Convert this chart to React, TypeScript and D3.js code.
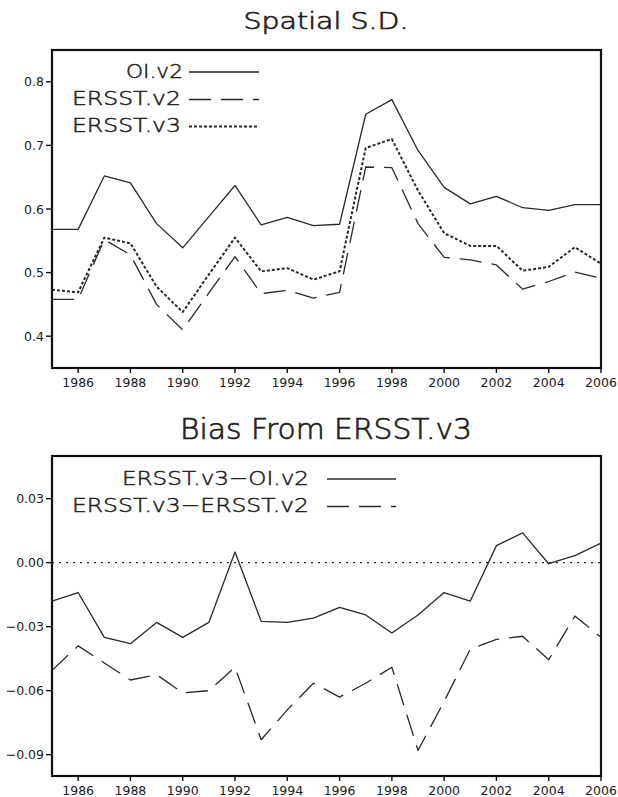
import React from "react";
import * as d3 from "d3";

const years = [1985,1986,1987,1988,1989,1990,1991,1992,1993,1994,1995,1996,1997,1998,1999,2000,2001,2002,2003,2004,2005,2006];
const oiV2 = [0.568,0.568,0.652,0.641,0.577,0.539,0.588,0.637,0.575,0.587,0.574,0.576,0.749,0.772,0.692,0.634,0.608,0.620,0.602,0.598,0.607,0.607];
const ersstV2 = [0.458,0.458,0.552,0.528,0.450,0.410,0.468,0.525,0.467,0.472,0.460,0.469,0.666,0.665,0.577,0.524,0.520,0.512,0.474,0.486,0.501,0.491];
const ersstV3 = [0.473,0.469,0.555,0.546,0.478,0.438,0.497,0.555,0.502,0.507,0.489,0.502,0.696,0.710,0.629,0.562,0.542,0.542,0.503,0.509,0.540,0.514];
const biasOI = [-0.018,-0.014,-0.035,-0.038,-0.028,-0.035,-0.028,0.005,-0.0275,-0.028,-0.026,-0.021,-0.0245,-0.033,-0.0245,-0.014,-0.018,0.008,0.014,-0.0005,0.0033,0.0092];
const biasV2 = [-0.0505,-0.039,-0.047,-0.055,-0.0525,-0.061,-0.060,-0.049,-0.083,-0.069,-0.0565,-0.063,-0.0565,-0.049,-0.088,-0.065,-0.0405,-0.036,-0.0345,-0.0455,-0.025,-0.035];

const xTicks = [1986,1988,1990,1992,1994,1996,1998,2000,2002,2004,2006];
const topYTicks = [0.4,0.5,0.6,0.7,0.8];
const botYTicks = [-0.09,-0.06,-0.03,0.0,0.03];

const FONT = "'DejaVu Sans', sans-serif";
const INK = "#1a1a1a";
const TXT = "#1e1e1e";
const LINE = "#2a2a2a";
const LONG_DASH = "22,10";

const L = 52, R = 601;

function Panel({ top, bottom, yDomain, yTicks, fmt, series, title, titleY, titleSize, titleLen, legend, zeroLine }: any) {
  const x = d3.scaleLinear().domain([1985, 2006]).range([L, R]);
  const y = d3.scaleLinear().domain(yDomain).range([bottom, top]);
  const line = (vals: number[]) =>
    d3.line<number>().x((_, i) => x(years[i])).y((v) => y(v))(vals) || "";
  return (
    <g>
      <text x={326} y={titleY} textAnchor="middle" fontFamily={FONT} fontWeight={200}
        fontSize={titleSize} fill={TXT} stroke={TXT} strokeWidth={0.7}
        textLength={titleLen} lengthAdjust="spacingAndGlyphs">{title}</text>
      {zeroLine && (
        <line x1={L} x2={R} y1={y(0)} y2={y(0)} stroke={LINE} strokeWidth={1.3} strokeDasharray="2,5" />
      )}
      {series.map((s: any, i: number) => (
        <path key={i} d={line(s.values)} fill="none" stroke={LINE} strokeWidth={s.width}
          strokeDasharray={s.dash} strokeLinejoin="round" />
      ))}
      {legend.map((lg: any, i: number) => (
        <g key={"lg" + i}>
          <text x={lg.textRight} y={lg.baseline} textAnchor="end" fontFamily={FONT} fontWeight={200}
            fontSize={lg.size} fill={TXT} stroke={TXT} strokeWidth={0.5}
            textLength={lg.len} lengthAdjust="spacingAndGlyphs">{lg.label}</text>
          <line x1={lg.x1} x2={lg.x2} y1={lg.lineY} y2={lg.lineY} stroke={LINE}
            strokeWidth={lg.width} strokeDasharray={lg.dash} />
        </g>
      ))}
      <rect x={L} y={top} width={R - L} height={bottom - top} fill="none" stroke="#111" strokeWidth={2.2} />
      {yTicks.map((t: number) => (
        <g key={"y" + t}>
          <line x1={L - 6} x2={L} y1={y(t)} y2={y(t)} stroke="#111" strokeWidth={1.4} />
          <text x={L - 8} y={y(t) + 4.5} textAnchor="end" fontFamily={FONT} fontSize={12.5} fill={INK}>{fmt(t)}</text>
        </g>
      ))}
      {xTicks.map((t: number) => (
        <g key={"x" + t}>
          <line x1={x(t)} x2={x(t)} y1={bottom} y2={bottom + 5} stroke="#111" strokeWidth={1.4} />
          <text x={x(t)} y={bottom + 19} textAnchor="middle" fontFamily={FONT} fontSize={12.5} fill={INK}>{t}</text>
        </g>
      ))}
    </g>
  );
}

export default function App() {
  const fmtTop = (v: number) => d3.format(".1f")(v);
  const fmtBot = (v: number) => d3.format(".2f")(v).replace("-", "\u2212");
  return (
    <svg width={618} height={797} style={{ position: "absolute", left: 0, top: 0, background: "#fff" }}>
      <rect width={618} height={797} fill="#fff" />
      <Panel
        top={50} bottom={368} yDomain={[0.35, 0.85]} yTicks={topYTicks} fmt={fmtTop}
        title="Spatial S.D." titleY={29} titleSize={23} titleLen={165}
        series={[
          { values: oiV2, width: 1.3, dash: null },
          { values: ersstV2, width: 1.3, dash: LONG_DASH },
          { values: ersstV3, width: 2, dash: "3,2" },
        ]}
        legend={[
          { label: "OI.v2", textRight: 183, baseline: 77.5, size: 19, len: 57, x1: 189, x2: 259, lineY: 72, width: 1.3, dash: null },
          { label: "ERSST.v2", textRight: 181, baseline: 105, size: 19, len: 109, x1: 189, x2: 259, lineY: 99.5, width: 1.3, dash: LONG_DASH },
          { label: "ERSST.v3", textRight: 181, baseline: 132, size: 19, len: 109, x1: 189, x2: 259, lineY: 126.5, width: 2, dash: "3,2" },
        ]}
      />
      <Panel
        top={456} bottom={776} yDomain={[-0.1, 0.05]} yTicks={botYTicks} fmt={fmtBot}
        title="Bias From ERSST.v3" titleY={439} titleSize={28} titleLen={292} zeroLine
        series={[
          { values: biasOI, width: 1.3, dash: null },
          { values: biasV2, width: 1.3, dash: LONG_DASH },
        ]}
        legend={[
          { label: "ERSST.v3\u2212OI.v2", textRight: 309, baseline: 484.5, size: 20, len: 187, x1: 327, x2: 396, lineY: 479, width: 1.3, dash: null },
          { label: "ERSST.v3\u2212ERSST.v2", textRight: 309, baseline: 512, size: 20, len: 237, x1: 327, x2: 396, lineY: 506.5, width: 1.3, dash: LONG_DASH },
        ]}
      />
    </svg>
  );
}
